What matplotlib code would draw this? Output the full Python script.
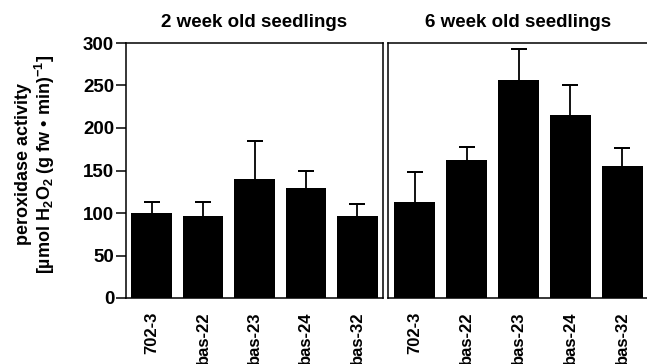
import numpy as np
import matplotlib
matplotlib.use("Agg")
from matplotlib import pyplot as plt

plt.rcParams['font.family'] = ['Liberation Sans', 'DejaVu Sans']
plt.rcParams['font.weight'] = 'bold'
plt.rcParams['mathtext.fontset'] = 'custom'
plt.rcParams['mathtext.default'] = 'bf'
plt.rcParams['mathtext.bf'] = 'Liberation Sans:bold'
plt.rcParams['mathtext.rm'] = 'Liberation Sans:bold'

lines = ["702-3", "bas-22", "bas-23", "bas-24", "bas-32"]

# 2 week old seedlings
week2_mean = [100, 97, 140, 129, 97]
week2_err = [13, 16, 45, 20, 14]

# 6 week old seedlings
week6_mean = [113, 162, 257, 215, 155]
week6_err = [35, 16, 36, 36, 21]

panel_titles = ["2 week old seedlings", "6 week old seedlings"]
yticks = [0, 50, 100, 150, 200, 250, 300]

fig = plt.figure(figsize=(6.47, 3.64), dpi=100)
axLeft = fig.add_axes([126 / 647, 66 / 364, 257 / 647, 255 / 364])
axRight = fig.add_axes([388 / 647, 66 / 364, 260 / 647, 255 / 364])


def drawPanel(axis, means, errs, title, xlim):
    x = np.arange(len(means))
    tops = np.array(means) + np.array(errs)
    # only the upper half of the error bar, with a cap on top
    axis.vlines(x, means, tops, colors='black', linewidth=1.3, zorder=1)
    axis.errorbar(x, tops, yerr=0, fmt='none', ecolor='black',
                  elinewidth=1.3, capsize=5.5, capthick=1.3, zorder=1)
    axis.bar(x, means, width=0.79, color='black', linewidth=0, zorder=2)
    axis.set_xlim(xlim)
    axis.set_ylim(0, 300)
    axis.set_xticks(x)
    axis.set_xticklabels(lines, rotation=90, fontsize=12, fontweight='bold')
    axis.tick_params(axis='x', length=0, pad=10)
    axis.set_title(title, fontsize=13.5, fontweight='bold', pad=11.5)
    for sp in axis.spines.values():
        sp.set_linewidth(1.1)


drawPanel(axLeft, week2_mean, week2_err, panel_titles[0], (-0.5, 4.5))
drawPanel(axRight, week6_mean, week6_err, panel_titles[1], (-0.52, 4.5))

axLeft.set_yticks(yticks)
axLeft.set_yticklabels([str(v) for v in yticks], fontsize=13.5, fontweight='bold')
axLeft.tick_params(axis='y', length=7, width=1.1, pad=1.5)
axRight.set_yticks([])

fig.text(36 / 647, 1 - 164 / 364,
         "peroxidase activity\n[µmol H$_2$O$_2$ (g fw • min)$^{-1}$]",
         rotation=90, ha='center', va='center', fontsize=13, fontweight='bold',
         multialignment='center', linespacing=1.0)

fig.savefig("out.png", dpi=100)
